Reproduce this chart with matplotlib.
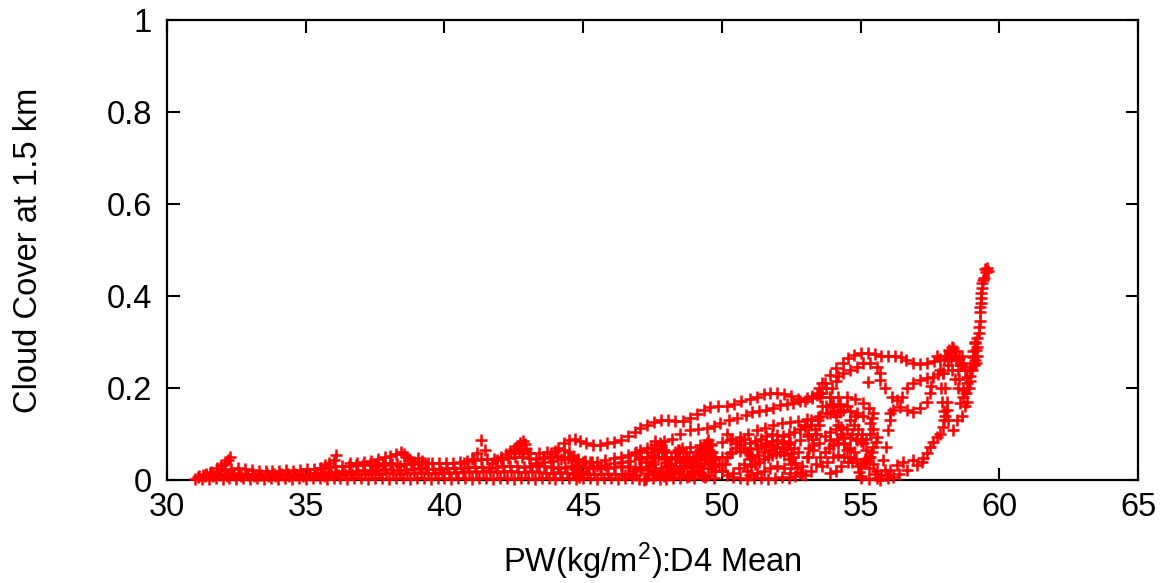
import numpy as np
import matplotlib
matplotlib.use("Agg")
import matplotlib.pyplot as plt

plt.rcParams['font.family'] = ['Liberation Sans', 'DejaVu Sans']
plt.rcParams['mathtext.fontset'] = 'custom'
plt.rcParams['mathtext.rm'] = 'Liberation Sans'
plt.rcParams['mathtext.it'] = 'Liberation Sans'

# axis setup
x_ticks = [30, 35, 40, 45, 50, 55, 60, 65]
y_ticks = [0, 0.2, 0.4, 0.6, 0.8, 1]
y_tick_labels = ['0', '0.2', '0.4', '0.6', '0.8', '1']

# (PW, cloud cover) points, grouped by track
band_low = [(31.0, .002), (31.25, .003), (31.5, .002), (31.75, .004), (32.0, .003), (32.25, .005),
            (32.5, .003), (32.75, .004), (33.0, .002), (33.25, .004), (33.5, .003), (33.75, .005),
            (34.0, .003), (34.25, .004), (34.5, .002), (34.75, .004), (35.0, .003), (35.25, .005),
            (35.5, .004), (35.75, .003), (36.0, .005), (36.25, .004), (36.5, .003), (36.75, .005),
            (37.0, .004), (37.25, .003), (37.5, .005), (37.75, .004), (38.0, .003), (38.25, .005),
            (38.5, .004), (38.75, .003), (39.0, .005), (39.25, .004), (39.5, .003), (39.75, .005),
            (40.0, .004), (40.25, .003), (40.5, .005), (40.75, .004), (41.0, .003), (41.25, .005),
            (41.5, .004), (41.75, .003), (42.0, .005), (42.25, .004), (42.5, .003), (42.75, .005),
            (43.0, .004), (43.25, .003), (43.5, .005), (43.75, .004), (44.0, .003), (44.25, .005),
            (44.5, .004), (44.75, .003), (45.0, .005), (45.25, .004), (45.5, .003), (45.75, .005),
            (46.0, .004), (46.25, .003), (46.5, .005), (46.75, .004), (47.0, .003), (47.25, .002),
            (47.5, .004), (47.75, .003), (48.0, .002), (48.25, .005), (48.5, .004), (48.75, .006),
            (49.0, .004), (49.3, .008), (50.4, .006), (50.65, .004), (50.9, .003), (51.15, .004),
            (51.4, .005), (51.65, .003), (51.9, .004), (52.15, .006), (52.4, .005), (52.65, .008),
            (52.9, .012)]

band_fill = [(31.15, .008), (31.4, .011), (31.65, .008), (31.9, .010), (32.15, .009), (32.4, .011),
             (32.65, .008), (32.9, .010), (33.15, .008), (33.4, .010), (33.65, .009), (33.9, .008),
             (34.15, .010), (34.4, .008), (34.65, .010), (34.9, .009), (35.15, .010), (35.4, .011),
             (35.65, .009), (35.9, .012), (36.15, .011), (36.4, .013), (36.65, .012), (36.9, .014),
             (37.15, .013), (37.4, .015), (37.65, .014), (37.9, .016), (38.15, .015), (38.4, .014),
             (38.65, .016), (38.9, .015), (39.15, .017), (39.4, .016), (39.65, .015), (39.9, .017),
             (40.15, .016), (40.4, .018), (40.65, .017), (40.9, .019), (41.15, .018), (41.4, .020),
             (41.65, .019), (41.9, .018), (42.15, .020), (42.4, .019), (42.65, .018), (42.9, .017),
             (43.15, .019), (43.4, .018), (43.65, .016), (43.9, .015), (44.15, .017), (44.4, .016),
             (44.65, .014), (44.9, .015), (45.15, .013), (45.4, .012), (45.65, .014), (45.9, .013),
             (46.15, .012), (46.4, .014), (46.65, .012), (46.9, .011)]

band_mid = [(31.1, .006), (31.35, .008), (31.6, .010), (31.85, .012), (32.1, .014), (32.35, .015),
            (32.6, .014), (32.85, .013), (33.1, .012), (33.35, .011), (33.6, .012), (33.85, .013),
            (34.1, .012), (34.35, .013), (34.6, .014), (34.85, .013), (35.1, .014), (35.35, .015),
            (35.6, .016), (35.85, .017), (36.1, .018), (36.35, .019), (36.6, .018), (36.85, .020),
            (37.1, .021), (37.35, .020), (37.6, .022), (37.85, .023), (38.1, .022), (38.35, .021),
            (38.6, .022), (38.85, .024), (39.1, .025), (39.35, .024), (39.6, .023), (39.85, .024),
            (40.1, .025), (40.35, .026), (40.6, .027), (40.85, .028), (41.1, .029), (41.35, .028),
            (41.6, .027), (41.85, .029), (42.1, .030), (42.35, .031), (42.6, .030), (42.85, .029),
            (43.1, .031), (43.35, .032), (43.6, .030), (43.85, .028), (44.1, .027), (44.35, .029),
            (44.6, .031), (44.85, .030), (45.1, .028), (45.35, .026), (45.6, .025), (45.85, .027),
            (46.1, .029), (46.35, .030), (46.6, .028), (46.85, .026), (47.1, .024), (47.35, .022),
            (47.6, .020), (47.85, .018), (48.1, .016)]

band_top = [(31.3, .010), (31.55, .015), (31.8, .020), (32.05, .022), (32.3, .024), (32.55, .025),
            (32.8, .024), (33.05, .022), (33.3, .020), (33.55, .019), (33.8, .020), (34.05, .020),
            (34.3, .021), (34.55, .020), (34.8, .022), (35.05, .023), (35.3, .024), (35.55, .026),
            (35.8, .028), (36.05, .030), (36.3, .031), (36.55, .030), (36.8, .032), (37.05, .033),
            (37.3, .034), (37.55, .035), (37.8, .036), (38.05, .036), (38.3, .035), (38.55, .034),
            (38.8, .035), (39.05, .036), (39.3, .038), (39.55, .037), (39.8, .036), (40.05, .037),
            (40.3, .038), (40.55, .040), (40.8, .042), (41.05, .044), (41.3, .045), (41.55, .046),
            (41.8, .045), (42.05, .046), (42.3, .048), (42.55, .050), (42.8, .049), (43.05, .047),
            (43.3, .046), (43.55, .048), (43.8, .050), (44.05, .052), (44.3, .050), (44.55, .048),
            (44.8, .045), (45.05, .042), (45.3, .040)]

burst_32 = [(31.4, .012), (31.6, .018), (31.8, .026), (31.95, .032), (32.1, .038), (32.2, .044),
            (32.27, .049)]
burst_36 = [(35.5, .026), (35.7, .032), (35.85, .038), (36.0, .044), (36.1, .054)]
burst_38 = [(36.6, .036), (36.85, .038), (37.1, .040), (37.35, .042), (37.6, .046), (37.85, .050),
            (38.05, .053), (38.25, .056), (38.45, .060), (38.55, .057), (38.65, .050), (38.75, .043),
            (38.9, .040), (39.05, .047), (39.2, .042), (39.4, .038), (37.5, .030), (37.8, .032),
            (38.1, .034), (38.4, .030)]
burst_41 = [(40.7, .038), (41.0, .045), (41.17, .058), (41.3, .087), (41.46, .066)]
burst_42 = [(41.7, .038), (41.9, .044), (42.05, .050), (42.2, .056), (42.35, .062), (42.5, .068),
            (42.62, .074), (42.73, .080), (42.83, .085), (42.9, .078), (42.95, .068), (43.0, .058),
            (42.7, .065), (42.5, .058)]
track_44 = [(42.83, .058), (43.1, .058), (43.4, .058), (43.7, .060), (44.0, .063), (44.3, .065),
            (44.5, .060), (44.65, .052), (44.75, .043), (44.75, .033), (44.7, .024), (44.75, .015),
            (44.85, .007)]
fill_46 = [(44.9, .020), (45.2, .025), (45.5, .030), (45.8, .033), (46.1, .036), (46.4, .040),
           (46.7, .042), (47.0, .045), (47.3, .050), (47.5, .055)]

upper_track = [(43.6, .050), (43.85, .058), (44.1, .070), (44.3, .080), (44.5, .087), (44.7, .089),
               (44.9, .085), (45.1, .080), (45.35, .077), (45.6, .077), (45.85, .080), (46.1, .083),
               (46.35, .088), (46.6, .096), (46.85, .105), (47.05, .113), (47.3, .120), (47.55, .126),
               (47.8, .130), (48.05, .130), (48.3, .129), (48.6, .128), (48.85, .135), (49.1, .143),
               (49.35, .152), (49.57, .159), (49.85, .160), (50.19, .161), (50.45, .166), (50.7, .171),
               (51.0, .176), (51.27, .180), (51.5, .186), (51.75, .189), (52.0, .190), (52.25, .188),
               (52.5, .183), (52.75, .177), (53.0, .172), (53.25, .178), (53.5, .190), (53.7, .210),
               (53.9, .228), (54.1, .243), (54.35, .255), (54.55, .265), (54.75, .272), (55.0, .277),
               (55.25, .277), (55.5, .273), (55.75, .270), (56.0, .270), (56.25, .269), (56.45, .268),
               (56.65, .260), (56.9, .255), (57.15, .253), (57.4, .255), (57.65, .258), (57.85, .263),
               (58.05, .270), (58.2, .280), (58.33, .287), (58.45, .280), (58.55, .265), (58.6, .250)]

second_track = [(43.3, .038), (43.6, .040), (43.9, .042), (44.2, .045), (44.45, .047), (44.7, .043),
                (45.0, .040), (45.25, .040), (45.5, .040), (45.8, .043), (46.1, .047), (46.35, .050),
                (46.6, .054), (46.85, .059), (47.05, .065), (47.3, .070), (47.6, .077), (47.9, .085),
                (48.2, .090), (48.5, .100), (48.85, .109), (49.15, .111), (49.47, .113), (49.7, .118),
                (49.93, .124), (50.25, .130), (50.55, .135), (50.85, .142), (51.1, .148), (51.35, .150),
                (51.6, .152), (51.85, .157), (52.1, .163), (52.35, .165), (52.57, .167), (52.8, .172),
                (53.07, .178), (53.25, .182), (53.43, .185), (53.6, .190)]

third_track = [(46.5, .010), (46.8, .020), (47.05, .028), (47.4, .040), (47.7, .050), (48.0, .060),
               (48.4, .066), (48.85, .072), (49.2, .075), (49.6, .078), (50.0, .083), (50.3, .088),
               (50.66, .094), (50.95, .100), (51.27, .109), (51.55, .114), (51.85, .120), (52.15, .123),
               (52.46, .126), (52.75, .129), (53.07, .132), (53.45, .138), (53.8, .146), (54.05, .147),
               (54.26, .148)]

fourth_track = [(49.6, .040), (50.0, .050), (50.3, .058), (50.66, .064), (51.0, .068), (51.27, .070),
                (51.55, .073), (51.85, .076), (52.15, .080), (52.46, .083), (52.8, .088), (53.1, .095),
                (53.4, .100)]

loop_47 = [(47.2, .000), (47.35, .015), (47.5, .035), (47.6, .050), (47.7, .065), (47.8, .075),
           (47.9, .065), (48.0, .050), (48.1, .035), (48.3, .030), (48.5, .040), (48.6, .050),
           (48.7, .045), (48.85, .030), (49.0, .020), (49.2, .030), (49.35, .045), (49.5, .055),
           (49.6, .060), (49.75, .050), (49.9, .035), (50.0, .020)]
loop_48 = [(48.0, .040), (48.15, .050), (48.3, .060), (48.45, .050), (48.6, .040), (48.75, .028),
           (48.9, .030), (49.1, .037), (49.25, .050), (49.35, .065), (49.45, .080), (49.5, .087),
           (49.6, .075), (49.65, .060), (49.7, .045), (49.72, .030), (49.75, .020)]
loop_48_low = [(47.6, .010), (47.8, .025), (48.0, .020), (48.2, .015), (48.4, .020), (48.6, .012),
               (48.8, .008), (49.0, .015), (49.2, .012), (49.4, .006)]
cluster_48 = [(47.3, .060), (47.45, .070), (47.6, .085), (47.75, .080), (47.85, .060), (47.95, .045),
              (48.05, .030), (48.2, .025), (48.35, .045), (48.45, .065), (48.55, .070), (48.7, .060),
              (48.8, .050), (48.95, .040), (49.05, .045), (49.2, .055), (49.3, .070), (49.4, .075),
              (49.55, .065), (49.65, .045), (48.9, .015), (49.1, .020), (49.3, .025), (49.5, .010),
              (49.7, .005), (46.9, .060), (47.1, .050), (47.25, .040), (47.4, .030), (47.55, .020),
              (47.7, .012), (47.9, .008), (48.1, .010), (48.3, .015), (48.5, .025), (48.65, .030),
              (48.8, .040), (48.95, .050), (49.1, .060), (49.2, .065), (49.3, .060), (49.4, .045),
              (49.5, .035), (49.6, .025)]
loop_51 = [(50.2, .010), (50.4, .015), (50.6, .025), (50.8, .035), (51.0, .045), (51.1, .050),
           (51.3, .055), (51.5, .060), (51.7, .065), (51.95, .070), (52.2, .072), (52.35, .068),
           (52.5, .058), (52.57, .050), (52.65, .038), (52.7, .026), (52.8, .015)]
loop_50 = [(50.0, .020), (50.1, .035), (50.2, .050), (50.35, .060), (50.5, .070), (50.65, .075),
           (50.8, .070), (50.9, .060), (51.0, .055), (50.2, .100), (50.35, .090), (50.5, .080),
           (50.65, .085), (50.8, .090)]
cluster_52 = [(50.9, .020), (51.05, .030), (51.2, .035), (51.35, .040), (51.5, .045), (51.65, .050),
              (51.8, .055), (51.95, .058), (52.1, .060), (52.25, .055), (52.4, .045), (52.5, .035),
              (51.0, .010), (51.25, .015), (51.5, .020), (51.75, .025), (52.0, .030), (52.25, .025),
              (52.45, .015), (51.4, .075), (51.6, .080), (51.8, .085), (52.0, .088), (52.2, .085),
              (52.4, .078), (52.6, .070), (52.75, .060)]
mid_52 = [(51.0, .080), (51.2, .085), (51.4, .090), (51.6, .095), (51.8, .100), (52.0, .098),
          (52.2, .095), (52.4, .100), (52.6, .105), (52.8, .110), (53.0, .115), (53.2, .120)]
cluster_54 = [(52.9, .030), (53.05, .050), (53.15, .070), (53.25, .090), (53.35, .110), (53.45, .130),
              (53.2, .130), (53.0, .120), (53.1, .100), (53.3, .075), (53.6, .030), (53.8, .040),
              (54.0, .050), (54.2, .055), (54.4, .050), (54.55, .040), (54.3, .030), (54.1, .020),
              (53.9, .015), (54.6, .130), (54.75, .120), (54.9, .110), (55.05, .100), (54.8, .140),
              (54.5, .160), (54.25, .165), (54.0, .165), (53.75, .160)]
loop_54 = [(53.0, .010), (53.2, .020), (53.4, .035), (53.55, .050), (53.7, .060), (53.85, .070),
           (54.0, .075), (54.2, .080), (54.4, .078), (54.6, .070), (54.75, .060), (54.85, .045),
           (54.9, .030), (54.95, .018), (55.0, .008)]
loop_54b = [(53.1, .050), (53.3, .065), (53.5, .080), (53.7, .095), (53.9, .105), (54.1, .110),
            (54.3, .115), (54.5, .110), (54.7, .100), (54.85, .090), (55.0, .085), (55.2, .090),
            (55.35, .100)]
swirl_53 = [(53.4, .100), (53.5, .120), (53.55, .140), (53.6, .160), (53.55, .180), (53.5, .200),
            (53.6, .210), (53.75, .200), (53.9, .180), (54.0, .160), (54.1, .140), (54.2, .120),
            (54.3, .100), (54.4, .080), (54.5, .065), (54.6, .050), (54.7, .040)]
descent_55 = [(53.9, .180), (54.2, .180), (54.5, .180), (54.8, .175), (55.1, .167), (55.3, .157),
              (55.45, .146), (55.4, .135), (55.34, .124), (55.45, .110), (55.6, .094), (55.55, .083),
              (55.45, .072), (55.4, .060), (55.34, .050), (55.2, .042), (55.1, .037), (55.0, .030)]
row_54_hi = [(53.9, .146), (54.15, .150), (54.37, .152), (54.6, .150), (54.87, .146), (55.1, .140)]
row_54_lo = [(53.9, .087), (54.15, .090), (54.37, .094), (54.6, .092), (54.87, .087), (55.1, .080)]
inner_loop = [(53.95, .200), (54.1, .215), (54.2, .225), (54.37, .233), (54.62, .239), (54.87, .246),
              (55.1, .254), (55.34, .254), (55.6, .246), (55.7, .233), (55.7, .217), (55.88, .200),
              (56.13, .180), (56.3, .174), (56.5, .180), (56.68, .200), (56.9, .211), (57.15, .217),
              (57.4, .222), (57.6, .224), (57.8, .230), (57.97, .233), (55.27, .213)]
right_loop = [(55.88, .022), (55.8, .043), (55.9, .072), (56.0, .109), (56.06, .130), (56.06, .146),
              (56.17, .152), (56.42, .159), (56.68, .152), (56.9, .148), (57.15, .157), (57.4, .170),
              (57.5, .189), (57.55, .205)]
bottom_a = [(55.0, .005), (55.3, .003), (55.6, .004), (55.95, .011), (56.06, .022), (56.3, .033),
            (56.53, .039), (56.9, .043), (57.25, .048), (57.4, .059), (57.5, .072), (57.6, .082),
            (57.76, .093), (57.87, .100), (57.97, .115), (58.0, .130)]
bottom_b = [(55.7, .000), (56.0, .004), (56.17, .007), (56.4, .012), (56.68, .022), (57.04, .033),
            (57.2, .040)]
narrow_55 = [(55.2, .065), (55.3, .050), (55.45, .035), (55.6, .020), (55.75, .010), (55.5, .012),
             (55.3, .025), (55.15, .045)]
v_loop = [(57.97, .233), (58.05, .200), (58.1, .170), (58.1, .152), (58.15, .130), (58.33, .109),
          (58.48, .130), (58.59, .167), (58.7, .195), (58.84, .224), (58.95, .246), (59.06, .267),
          (59.13, .297)]
knot_58 = [(58.0, .260), (58.1, .270), (58.2, .283), (58.3, .290), (58.35, .280), (58.4, .270),
           (58.45, .260), (58.25, .265), (58.15, .250), (58.5, .240), (58.55, .220), (58.6, .250),
           (58.65, .270), (58.7, .255), (58.75, .240), (58.5, .200), (58.4, .220), (58.3, .240),
           (57.75, .270), (57.85, .240), (57.9, .200), (57.95, .170), (58.0, .150), (58.05, .140),
           (58.8, .190), (58.9, .200), (58.85, .170), (58.75, .160), (58.65, .140), (58.95, .215)]
spike = [(58.7, .180), (58.84, .211), (58.95, .226), (59.02, .239), (59.08, .250), (59.13, .261),
         (59.16, .283), (59.2, .309), (59.25, .320), (59.27, .333), (59.3, .345), (59.3, .365),
         (59.32, .375), (59.35, .385), (59.35, .395), (59.35, .406), (59.37, .417), (59.38, .428),
         (59.42, .435), (59.45, .440), (59.52, .452), (59.56, .460), (59.5, .458), (59.58, .455),
         (59.1, .270), (59.18, .290), (59.12, .300), (59.05, .280), (59.15, .255), (59.2, .270)]

runs = [band_low, band_fill, band_mid, band_top, burst_32, burst_36, burst_38, burst_41, burst_42,
        track_44, fill_46, upper_track, second_track, third_track, fourth_track, loop_47, loop_48,
        loop_48_low, cluster_48, loop_51, loop_50, cluster_52, mid_52, cluster_54, loop_54,
        loop_54b, swirl_53, descent_55, row_54_hi, row_54_lo, inner_loop, right_loop, bottom_a,
        bottom_b, narrow_55, v_loop, knot_58, spike]

fig = plt.figure(figsize=(11.74, 5.83), dpi=100)
ax = fig.add_axes([0.1423, 0.1767, 0.8271, 0.789])

for run in runs:
    pts = np.array(run)
    ax.plot(pts[:, 0], pts[:, 1], linestyle='none', marker='+', ms=8, mew=1.8,
            color='#ff0000', clip_on=False, zorder=3)

ax.set_xlim(30, 65)
ax.set_ylim(0, 1)
ax.set_xticks(x_ticks)
ax.set_xticklabels([str(t) for t in x_ticks])
ax.set_yticks(y_ticks)
ax.set_yticklabels(y_tick_labels)
ax.tick_params(direction='in', length=9, width=1.5, top=True, right=True,
               labelsize=23.5, colors='black')
ax.tick_params(axis='y', pad=11)
ax.tick_params(axis='x', pad=9)
for sp in ax.spines.values():
    sp.set_linewidth(1.6)

ax.set_xlabel('PW(kg/m$^2$):D4 Mean', fontsize=23.5)
ax.set_ylabel('Cloud Cover at 1.5 km', fontsize=23.5)
ax.xaxis.set_label_coords(0.5, -0.132)
ax.yaxis.set_label_coords(-0.127, 0.5)

fig.savefig('out.png', dpi=100)
